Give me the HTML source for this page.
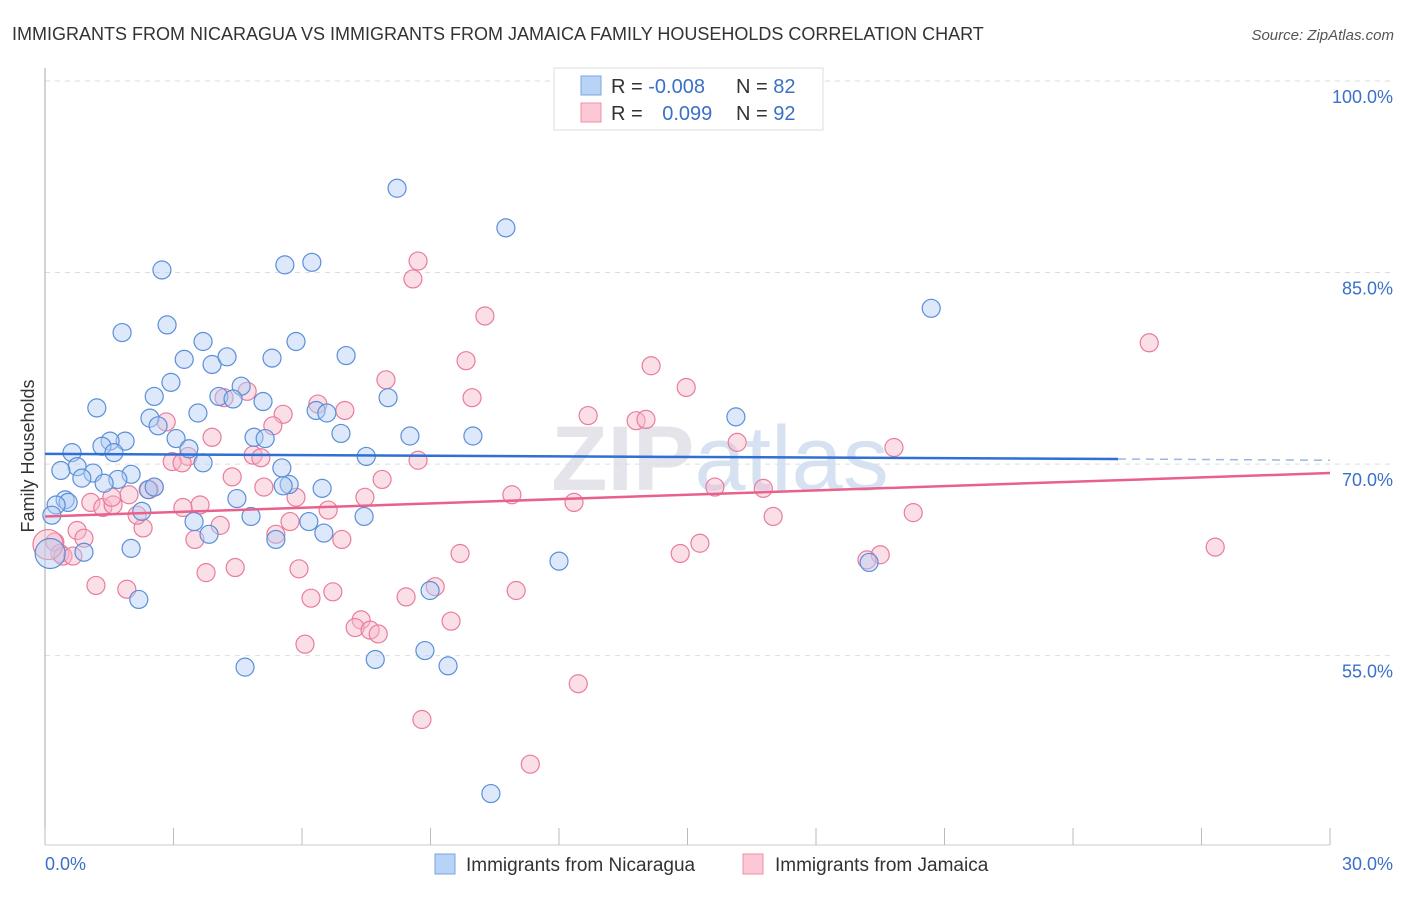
<!DOCTYPE html>
<html><head><meta charset="utf-8"><style>
body{margin:0;background:#fff;font-family:"Liberation Sans",sans-serif;}
svg text{font-family:"Liberation Sans",sans-serif;}
</style></head><body>
<svg id="chart" width="1406" height="892" xmlns="http://www.w3.org/2000/svg">
<text x="12" y="40" font-size="18" fill="#333">IMMIGRANTS FROM NICARAGUA VS IMMIGRANTS FROM JAMAICA FAMILY HOUSEHOLDS CORRELATION CHART</text>
<text x="1394" y="40" font-size="15" fill="#555" text-anchor="end" font-style="italic">Source: ZipAtlas.com</text>
<text x="720" y="490" font-size="92" fill="#e4e4ea" text-anchor="middle" font-family="Liberation Serif" font-weight="bold">ZIP<tspan fill="#d6e2f2" font-family="Liberation Sans" font-weight="normal">atlas</tspan></text>
<g id="grid"></g><g id="axes"></g><g id="pts"></g><g id="lines"></g>
<text transform="translate(34,456) rotate(-90)" font-size="18" fill="#333" text-anchor="middle">Family Households</text>
<g>
<rect x="554" y="68" width="269" height="62" fill="#fff" stroke="#ddd"/>
<rect x="581" y="76" width="20" height="19" fill="#b8d3f5" stroke="#7aa7e0"/>
<rect x="581" y="103" width="20" height="19" fill="#fcc8d6" stroke="#ef8fab"/>
<text x="611" y="93" font-size="20" fill="#333">R = <tspan fill="#3a70c8">-0.008</tspan></text>
<text x="736" y="93" font-size="20" fill="#333">N = <tspan fill="#3a70c8">82</tspan></text>
<text x="611" y="120" font-size="20" fill="#333">R = <tspan fill="#3a70c8" dx="14">0.099</tspan></text>
<text x="736" y="120" font-size="20" fill="#333">N = <tspan fill="#3a70c8">92</tspan></text>
</g>
<g>
<rect x="435" y="854" width="20" height="20" fill="#b8d3f5" stroke="#7aa7e0"/>
<text x="466" y="871" font-size="19" fill="#333">Immigrants from Nicaragua</text>
<rect x="743" y="854" width="20" height="20" fill="#fcc8d6" stroke="#ef8fab"/>
<text x="775" y="871" font-size="19" fill="#333">Immigrants from Jamaica</text>
</g>
</svg>
<script>
const blueX=[8.22,10.76,2.73,5.60,6.23,20.69,2.85,1.80,5.86,3.69,3.25,3.90,4.25,5.30,7.03,2.94,4.58,2.55,4.06,4.39,5.09,8.01,1.21,3.57,6.33,6.58,16.13,2.45,2.64,3.06,6.91,8.52,9.99,4.88,5.14,1.87,1.52,1.33,1.61,3.36,0.63,7.50,0.75,3.69,5.53,0.37,1.12,2.01,1.70,0.86,1.38,5.70,5.56,6.47,2.41,4.48,0.47,0.54,0.26,0.16,4.81,2.26,3.48,6.16,7.45,3.83,6.51,5.39,0.91,2.01,12.0,19.24,0.12,2.19,8.99,4.67,7.71,8.87,9.41,10.41,2.55];
const blueY=[91.6,88.5,85.2,85.6,85.8,82.2,80.9,80.3,79.6,79.6,78.2,77.8,78.4,78.3,78.5,76.4,76.1,75.3,75.3,75.1,74.9,75.2,74.4,74.0,74.2,74.0,73.7,73.6,73.0,72.0,72.4,72.2,72.2,72.1,72.0,71.8,71.8,71.4,70.9,71.2,70.9,70.6,69.8,70.1,69.7,69.5,69.3,69.2,68.8,68.9,68.5,68.4,68.3,68.1,68.0,67.3,67.2,67.0,66.8,66.0,65.9,66.3,65.5,65.5,65.9,64.5,64.6,64.1,63.1,63.4,62.4,62.3,63.0,59.4,60.1,54.1,54.7,55.4,54.2,44.2,68.2];
const pinkX=[8.71,8.59,10.27,25.78,9.83,14.15,7.96,14.97,4.72,4.18,6.37,7.0,9.97,12.68,13.8,14.03,2.83,5.56,3.90,16.16,19.82,3.34,4.86,5.04,5.32,2.97,3.20,8.71,4.37,7.87,15.64,16.77,5.11,2.55,2.43,1.96,1.07,1.35,1.59,3.62,3.22,5.86,10.9,12.35,7.47,6.61,5.72,17.0,20.27,4.09,2.29,2.15,0.75,0.91,3.50,5.39,6.93,15.29,9.69,14.83,19.5,19.19,27.32,0.23,0.35,0.42,0.65,5.93,3.76,4.44,1.19,1.91,6.21,6.72,11.0,8.43,9.11,9.48,7.38,7.24,7.59,7.78,6.07,12.45,8.8,11.33,1.56,0.07];
const pinkY=[85.9,84.5,81.6,79.5,78.1,77.7,76.6,76.0,75.7,75.2,74.7,74.2,75.2,73.8,73.4,73.5,73.3,73.9,72.1,71.7,71.3,70.6,70.7,70.5,73.0,70.2,70.1,70.3,69.0,68.8,68.2,68.1,68.2,68.2,68.0,67.6,67.0,66.6,66.8,66.8,66.6,67.4,67.6,67.0,67.4,66.4,65.5,65.9,66.2,65.2,65.0,66.0,64.8,64.2,64.1,64.5,64.1,63.8,63.0,63.0,62.9,62.5,63.5,63.9,63.0,62.8,62.8,61.8,61.5,61.9,60.5,60.2,59.5,60.0,60.1,59.6,60.4,57.7,57.8,57.2,57.0,56.7,55.9,52.8,50.0,46.5,67.4,63.7];
const bigBlue=[72];const bigPink=[87];
const yTicks=[100,85,70,55];const yTickLabels=["100.0%","85.0%","70.0%","55.0%"];
const xTicks=[0,3,6,9,12,15,18,21,24,27,30];
const blueTrend=[70.8,70.4,25.05,70.3];
const pinkTrend=[65.9,69.3];
const NS='http://www.w3.org/2000/svg';
function xs(v){return 45+v/30*1285;}
function ys(v){return 81+(100-v)*12.77;}
function mk(tag,attrs,parent){const e=document.createElementNS(NS,tag);for(const k in attrs)e.setAttribute(k,attrs[k]);document.getElementById(parent).appendChild(e);return e;}
yTicks.forEach((t,i)=>{
 const l=mk('line',{x1:45,x2:1394,y1:ys(t),y2:ys(t),stroke:'#ddd','stroke-dasharray':'5,5'},'grid');
 
 
 const tx=mk('text',{x:1393,y:ys(t)+22,'font-size':18,fill:'#3a70c8','text-anchor':'end'},'grid');
 tx.textContent=yTickLabels[i];
 
 
});
const ax=mk('line',{x1:45,x2:45,y1:68,y2:845,stroke:'#aaa'},'axes');


const bx=mk('line',{x1:45,x2:1330,y1:845,y2:845,stroke:'#ccc'},'axes');


xTicks.forEach(t=>{const l=mk('line',{x1:xs(t),x2:xs(t),y1:828,y2:845,stroke:'#bbb'},'axes');
 
 });
const x0=mk('text',{x:45,y:870,'font-size':18,fill:'#3a70c8'},'axes');x0.textContent='0.0%';


const x1=mk('text',{x:1393,y:870,'font-size':18,fill:'#3a70c8','text-anchor':'end'},'axes');x1.textContent='30.0%';


function pts(X,Y,big,fill,stroke,name){X.forEach((x,i)=>{const c=mk('circle',{cx:xs(x),cy:ys(Y[i]),r:big.includes(i)?15:9,fill:fill,'fill-opacity':0.45,stroke:stroke,'stroke-width':1.2},'pts');
 
 });}
pts(pinkX,pinkY,bigPink,'#f7b8ca','#e97c9c','jamaica-point');
pts(blueX,blueY,bigBlue,'#b3cff3','#5a8fd8','nicaragua-point');
const bl=mk('line',{x1:xs(0),y1:ys(blueTrend[0]),x2:xs(blueTrend[2]),y2:ys(blueTrend[1]),stroke:'#2f6fd6','stroke-width':2.5},'lines');


const bd=mk('line',{x1:xs(blueTrend[2]),y1:ys(blueTrend[1]),x2:xs(30),y2:ys(blueTrend[3]),stroke:'#9bb7e0','stroke-width':1.5,'stroke-dasharray':'8,6'},'lines');


const pl=mk('line',{x1:xs(0),y1:ys(pinkTrend[0]),x2:xs(30),y2:ys(pinkTrend[1]),stroke:'#e8608b','stroke-width':2.5},'lines');


</script>
</body></html>
